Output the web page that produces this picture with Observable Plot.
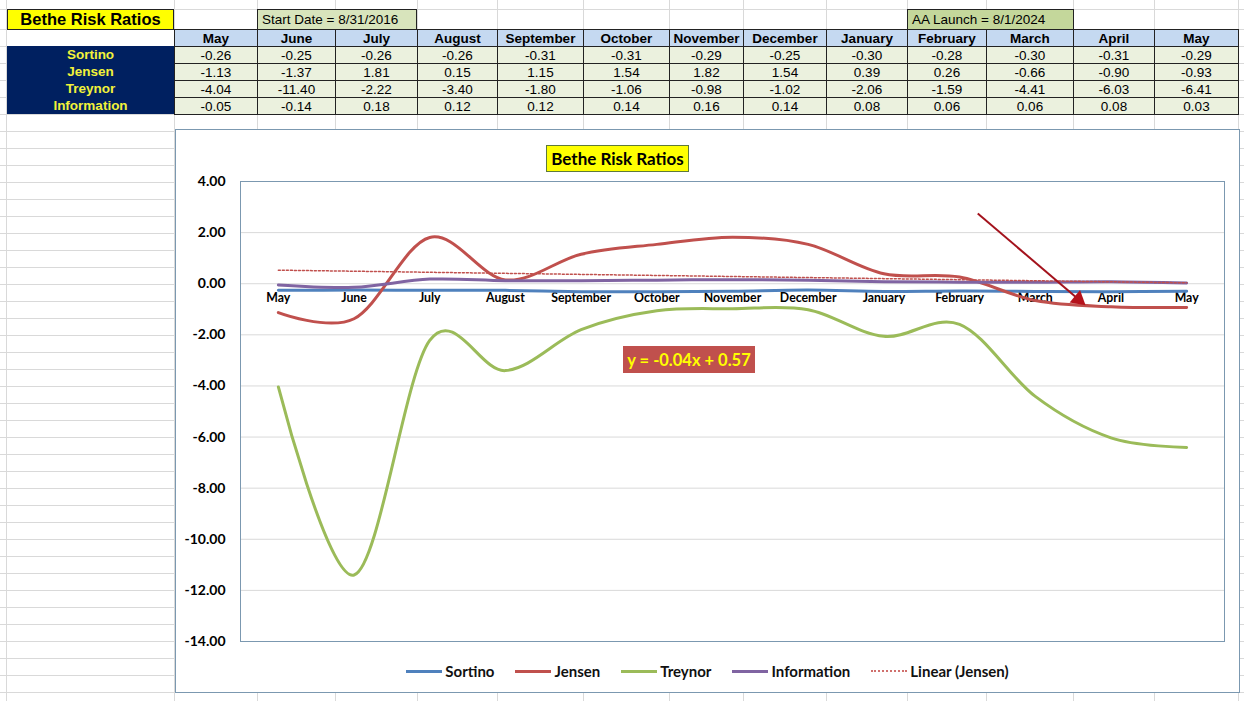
<!DOCTYPE html>
<html><head><meta charset="utf-8">
<script src="https://cdn.jsdelivr.net/npm/d3@7"></script>
<script src="https://cdn.jsdelivr.net/npm/@observablehq/plot@0.6"></script>
<style>
html,body{margin:0;padding:0;background:#fff}
body{width:1244px;height:701px;overflow:hidden;position:relative;font-family:"Liberation Sans",Arial,sans-serif}
.abs{position:absolute;box-sizing:border-box}
.gl{position:absolute;background:#d9d9d9}
.cell{position:absolute;box-sizing:border-box;display:flex;align-items:center;justify-content:center;font-size:13.5px;color:#000;white-space:nowrap}
.legend{position:absolute;left:175px;width:1065px;top:662px;height:18px;display:flex;justify-content:center;align-items:center;gap:21px;font-family:Lato,"Open Sans",sans-serif;font-weight:bold;font-size:15px;color:#111}
.legend .it{display:flex;align-items:center}
.legend .sw{width:36px;height:0;margin-right:3px}
</style></head><body>
<script>
// ---------- data ----------
const months = ["May","June","July","August","September","October","November","December","January","February","March","April","May"];
const seriesNames = ["Sortino","Jensen","Treynor","Information"];
const sortino = [-0.26,-0.25,-0.26,-0.26,-0.31,-0.31,-0.29,-0.25,-0.30,-0.28,-0.30,-0.31,-0.29];
const jensen = [-1.13,-1.37,1.81,0.15,1.15,1.54,1.82,1.54,0.39,0.26,-0.66,-0.90,-0.93];
const treynor = [-4.04,-11.40,-2.22,-3.40,-1.80,-1.06,-0.98,-1.02,-2.06,-1.59,-4.41,-6.03,-6.41];
const information = [-0.05,-0.14,0.18,0.12,0.12,0.14,0.16,0.14,0.08,0.06,0.06,0.08,0.03];
const yTicks = [4,2,0,-2,-4,-6,-8,-10,-12,-14];
const colors = ["#4f81bd","#c0504d","#9bbb59","#8064a2"];
const tableTitle = "Bethe Risk Ratios";
const startNote = "Start Date = 8/31/2016";
const launchNote = "AA Launch = 8/1/2024";
const trendLabel = "y = -0.04x + 0.57";
// annotation arrow (data units: month index, ratio value)
const arrowFrom = [9.24, 2.75];
const arrowTo = [10.57, -0.61];

// ---------- spreadsheet backdrop ----------
const colEdges = [6,174,257,335,417,497,583,669,743,826,907,986,1073,1154,1238];
const rowEdges = [9,29];
for (let y = 46; y < 701; y += 17) rowEdges.push(y);
const body = document.body;
function el(cls, style, text) {
  const d = document.createElement("div");
  d.className = cls;
  Object.assign(d.style, style);
  if (text != null) d.textContent = text;
  body.appendChild(d);
  return d;
}
rowEdges.forEach(y => el("gl", {left:"0px", top:y+"px", width:"1244px", height:"1px"}));
colEdges.forEach(x => el("gl", {left:x+"px", top:"0px", width:"1px", height:"701px"}));

// ---------- table ----------
const bd = "1px solid #222";
el("cell", {left:"7px", top:"9px", width:"167px", height:"21px", background:"#ffff00", border:bd, fontWeight:"bold", fontSize:"16.5px"}, tableTitle);
el("cell", {left:"257px", top:"9px", width:"160px", height:"21px", background:"#d8e4bc", border:bd, justifyContent:"flex-start", paddingLeft:"4px"}, startNote);
el("cell", {left:"907px", top:"9px", width:"167px", height:"21px", background:"#c4d79b", border:bd, justifyContent:"flex-start", paddingLeft:"4px"}, launchNote);
el("cell", {left:"7px", top:"30px", width:"167px", height:"17px", background:"#fff"});
el("cell", {left:"7px", top:"46px", width:"167px", height:"68px", background:"#002060"});
const rows = [sortino, jensen, treynor, information];
seriesNames.forEach((n, r) => {
  el("cell", {left:"7px", top:(46+17*r)+"px", width:"167px", height:"17px", color:"#f2f23a", fontWeight:"bold"}, n);
});
months.forEach((m, i) => {
  const x0 = colEdges[i+1], x1 = colEdges[i+2];
  el("cell", {left:x0+"px", top:"29px", width:(x1-x0+1)+"px", height:"18px", background:"#c5d9f1", border:bd, fontWeight:"bold"}, m);
  rows.forEach((arr, r) => {
    el("cell", {left:x0+"px", top:(46+17*r)+"px", width:(x1-x0+1)+"px", height:"18px", background:"#ebf1de", border:bd}, arr[i].toFixed(2));
  });
});

// ---------- chart box ----------
el("abs", {left:"175px", top:"129px", width:"1065px", height:"564px", border:"1px solid #7b98b0", background:"#fff"});

const seriesArrays = [sortino, jensen, treynor, information];
const long = [];
seriesArrays.forEach((arr, s) => arr.forEach((v, i) => long.push({series: seriesNames[s], i, v})));
const jensenData = jensen.map((v, i) => ({i, v}));

const chart = Plot.plot({
  width: 1063,
  height: 520,
  marginLeft: 64,
  marginRight: 15,
  marginTop: 51,
  marginBottom: 9,
  style: {background: "transparent", fontFamily: "Lato, 'Open Sans', sans-serif", overflow: "visible"},
  x: {type: "linear", domain: [-0.5, 12.5], axis: null},
  y: {domain: [-14, 4], axis: null},
  marks: [
    Plot.gridY(yTicks, {stroke: "#d9d9d9", strokeOpacity: 1}),
    Plot.axisY(yTicks, {tickSize: 0, tickPadding: 15, tickFormat: d => d.toFixed(2), fontSize: 14, fontWeight: "bold", fill: "#000", label: null}),
    Plot.text(months, {x: (d, i) => i, y: () => 0, dy: 14, text: d => d, fontSize: 12.3, fontWeight: "bold", fill: "#000"}),
    ...seriesNames.map((n, s) => Plot.line(long.filter(d => d.series === n), {x: "i", y: "v", curve: "catmull-rom", tension: 0, stroke: colors[s], strokeWidth: 3})),
    Plot.linearRegressionY(jensenData, {x: "i", y: "v", ci: 0, stroke: "#c0504d", strokeWidth: 1.5, strokeDasharray: "2,2"}),
    Plot.link([0], {x1: () => arrowFrom[0], y1: () => arrowFrom[1], x2: () => arrowTo[0], y2: () => arrowTo[1], stroke: "#a3121c", strokeWidth: 2}),
    Plot.dot([0], {x: () => arrowTo[0], y: () => arrowTo[1], symbol: "triangle", r: 6, rotate: 130, fill: "#b5121b", stroke: "none"}),
    Plot.frame({stroke: "#7b98b0"})
  ]
});
chart.style.position = "absolute";
chart.style.left = "176px";
chart.style.top = "130px";
body.appendChild(chart);

// ---------- chart title & trend label ----------
el("cell", {left:"546px", top:"145px", width:"143px", height:"27px", background:"#ffff00", border:"1px solid #5f7a3a", fontFamily:"Lato, 'Open Sans', sans-serif", fontWeight:"bold", fontSize:"17px"}, tableTitle);
el("cell", {left:"623px", top:"346px", width:"132px", height:"27px", background:"#c0504d", color:"#ffff00", fontFamily:"Lato, 'Open Sans', sans-serif", fontWeight:"bold", fontSize:"16.5px"}, trendLabel);

// ---------- legend ----------
const lg = el("legend", {});
const legendItems = seriesNames.map((n, s) => ({name: n, color: colors[s], dash: false})).concat([{name: "Linear (Jensen)", color: "#c0504d", dash: true}]);
legendItems.forEach(it => {
  const d = document.createElement("div"); d.className = "it";
  const sw = document.createElement("div"); sw.className = "sw";
  sw.style.borderTop = it.dash ? `2px dotted #d0706d` : `3px solid ${it.color}`;
  const t = document.createElement("span"); t.textContent = it.name;
  d.appendChild(sw); d.appendChild(t); lg.appendChild(d);
});
</script>
</body></html>
